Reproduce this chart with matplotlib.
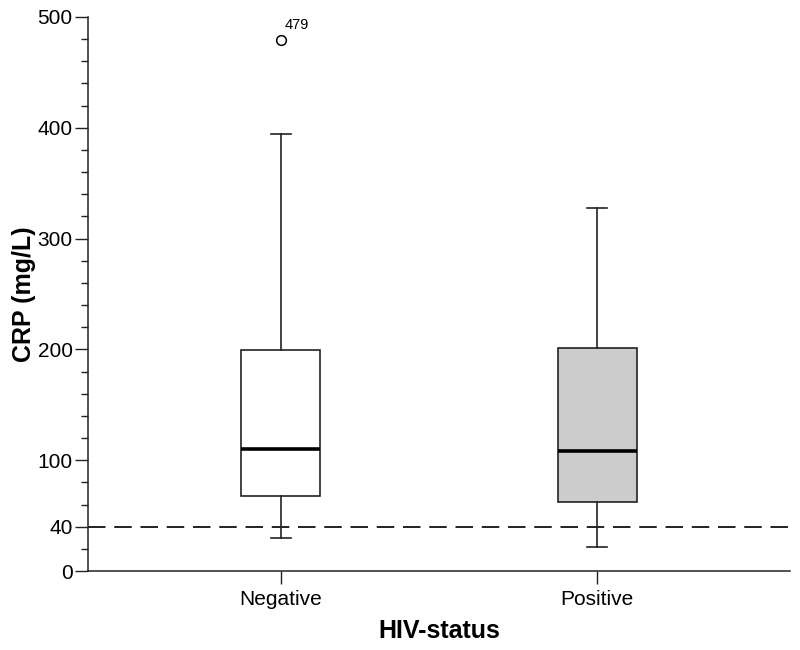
import matplotlib
matplotlib.use("Agg")
import matplotlib.pyplot as plt
from matplotlib.ticker import MultipleLocator, FixedLocator

# box statistics (CRP, mg/L)
groups = ["Negative", "Positive"]
q1 = [68, 62]
medians = [110, 108]
q3 = [199, 201]
whisker_lo = [30, 22]
whisker_hi = [394, 328]
outliers = [[479], []]
outlier_labels = ["479"]
cutoff = 40
yticks = [0, 40, 100, 200, 300, 400, 500]
fills = ["white", "#cccccc"]

plt.rcParams['font.family'] = ['Liberation Sans', 'DejaVu Sans']

fig = plt.figure(figsize=(8, 6.5), dpi=100)
ax = fig.add_axes([0.11, 0.1215, 0.8775, 0.8525])

stats = []
for i, g in enumerate(groups):
    stats.append(dict(label=g, q1=q1[i], med=medians[i], q3=q3[i],
                      whislo=whisker_lo[i], whishi=whisker_hi[i], fliers=outliers[i]))

bp = ax.bxp(stats, positions=[1, 2], widths=0.25, patch_artist=True,
            capwidths=0.063,
            boxprops=dict(edgecolor="#222222", linewidth=1.2),
            whiskerprops=dict(color="#222222", linewidth=1.2),
            capprops=dict(color="#222222", linewidth=1.2),
            medianprops=dict(color="black", linewidth=2.6),
            flierprops=dict(marker="o", markerfacecolor="none", markeredgecolor="black",
                            markersize=7, markeredgewidth=1.1))
for patch, c in zip(bp["boxes"], fills):
    patch.set_facecolor(c)

ax.annotate(outlier_labels[0], xy=(1, outliers[0][0]), xytext=(3, 6),
            textcoords="offset points", fontsize=10.5, ha="left", va="bottom")

ax.axhline(cutoff, color="#222222", linewidth=1.4, linestyle=(0, (9, 4.5)), zorder=0)

ax.set_xlim(0.39, 2.61)
ax.set_ylim(0, 500)
ax.yaxis.set_major_locator(FixedLocator(yticks))
ax.yaxis.set_minor_locator(MultipleLocator(20))
ax.tick_params(axis="y", which="major", length=9.5, width=1, pad=1.5, labelsize=15, color="#222222")
ax.tick_params(axis="y", which="minor", length=4.7, width=1, color="#222222")
ax.tick_params(axis="x", length=9.5, width=1, pad=4.5, labelsize=15, color="#222222")

for s in ["top", "right"]:
    ax.spines[s].set_visible(False)
for s in ["left", "bottom"]:
    ax.spines[s].set_color("#222222")
    ax.spines[s].set_linewidth(1.1)

ax.set_xlabel("HIV-status", fontsize=18, fontweight="bold", labelpad=7)
ax.set_ylabel("CRP (mg/L)", fontsize=18, fontweight="bold", labelpad=1)

fig.savefig("out.png", dpi=100)
